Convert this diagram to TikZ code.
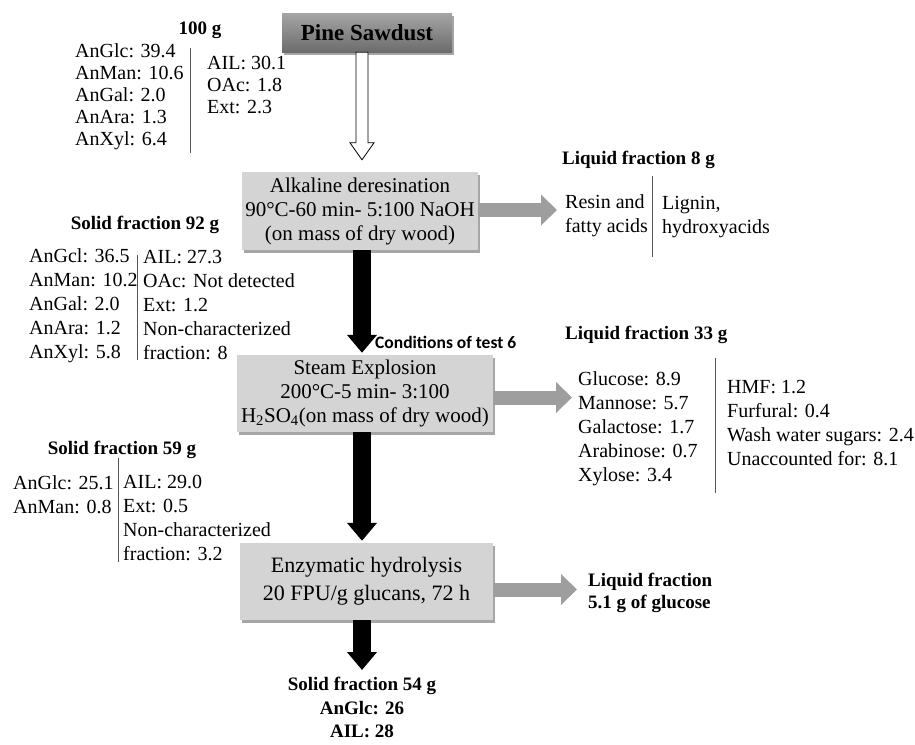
\documentclass[tikz,border=0pt]{standalone}
\usepackage{fontspec}
\setmainfont{Liberation Serif}
\newfontfamily\condfont{Carlito}
\usepackage{xcolor}
\definecolor{boxgray}{RGB}{212,212,212}
\definecolor{pinetop}{RGB}{165,165,165}
\definecolor{pinebottom}{RGB}{108,108,108}
\definecolor{flowgray}{RGB}{158,158,158}
\definecolor{sepgray}{RGB}{85,85,85}
\usepackage{tikz}
\usetikzlibrary{calc,arrows.meta,positioning,shadows}

\begin{document}
\begin{tikzpicture}
[	x=1pt, y=-1pt,
	stepbox/.style = {rectangle, fill=boxgray, align=center, inner sep=0,
		font=\fontsize{21}{24}\selectfont,
		drop shadow={shadow xshift=2pt, shadow yshift=-3pt, fill=black, opacity=0.35}},
	datalist/.style = {anchor=north west, inner sep=0, align=left, font=\fontsize{20}{24}\selectfont},
	heading/.style = {inner sep=0, font=\fontsize{19}{22}\bfseries\selectfont},
	downflow/.style = {line width=18pt, -{Triangle[length=18pt,width=29pt]}, shorten >=2pt},
	sideflow/.style = {flowgray, line width=14pt, -{Triangle[length=16pt,width=30pt]}},
	sepline/.style = {sepgray, line width=0.8pt}
]
\useasboundingbox (0,0) rectangle (915,744);
\coordinate (mid) at (362,0);

% process column
\node[stepbox, minimum width=170pt, minimum height=39pt, top color=pinetop, bottom color=pinebottom,
	font=\fontsize{23}{26}\bfseries\selectfont] (pine) at (367,32.5) {Pine Sawdust};
\node[stepbox, minimum width=236pt, minimum height=78pt] (alk) at (360,211)
	{Alkaline deresination\\90°C-60 min- 5:100 NaOH\\(on mass of dry wood)};
\node[stepbox, minimum width=256pt, minimum height=77pt] (steam) at (365,393.5)
	{Steam Explosion\\200°C-5 min- 3:100\\H\textsubscript{2}SO\textsubscript{4}(on mass of dry wood)};
\node[stepbox, minimum width=253pt, minimum height=77pt, font=\fontsize{22}{28}\selectfont] (enz) at (366.5,581.5)
	{Enzymatic hydrolysis\\20 FPU/g glucans, 72 h};

% raw material
\node[heading] (head100) at (200,30) {100 g};
\node[datalist, font=\fontsize{20}{22}\selectfont] (raw1) at (75,43)
	{AnGlc: 39.4\\AnMan: 10.6\\AnGal: 2.0\\AnAra: 1.3\\AnXyl: 6.4};
\node[datalist, font=\fontsize{20}{22}\selectfont] (raw2) at (207,56) {AIL: 30.1\\OAc: 1.8\\Ext: 2.3};
\draw[sepline] (190,48) -- (190,153);

% deresination
\node[heading, anchor=west] (liq8) at (562,160) {Liquid fraction 8 g};
\node[datalist] (resin) at (565,194) {Resin and\\fatty acids};
\node[datalist] (lignin) at (662,196) {Lignin,\\hydroxyacids};
\draw[sepline] (652,176) -- (652,257);
\node[heading] (sol92) at (145,225) {Solid fraction 92 g};
\node[datalist] (solid1) at (29,248) {AnGcl: 36.5\\AnMan: 10.2\\AnGal: 2.0\\AnAra: 1.2\\AnXyl: 5.8};
\node[datalist] (solid2) at (143,250) {AIL: 27.3\\OAc: Not detected\\Ext: 1.2\\Non-characterized\\fraction: 8};
\draw[sepline] (137,255) -- (137,360);
\node[anchor=west, inner sep=0, font=\condfont\fontsize{17.5}{20}\bfseries\selectfont] (cond) at (375,342) {Conditions of test 6};

% steam explosion
\node[heading, anchor=west] (liq33) at (565,335) {Liquid fraction 33 g};
\node[datalist] (sugars) at (578,371) {Glucose: 8.9\\Mannose: 5.7\\Galactose: 1.7\\Arabinose: 0.7\\Xylose: 3.4};
\node[datalist] (others) at (727,380) {HMF: 1.2\\Furfural: 0.4\\Wash water sugars: 2.4\\Unaccounted for: 8.1};
\draw[sepline] (715,358) -- (715,493);
\node[heading] (sol59) at (122,450) {Solid fraction 59 g};
\node[datalist] (pre1) at (13,475) {AnGlc: 25.1\\AnMan: 0.8};
\node[datalist] (pre2) at (123,475) {AIL: 29.0\\Ext: 0.5\\Non-characterized\\fraction: 3.2};
\draw[sepline] (118,458) -- (118,562);

% hydrolysis
\node[heading, anchor=north west, align=left] (liqglc) at (588,573) {Liquid fraction\\5.1 g of glucose};
\node[heading, anchor=north, align=center, font=\fontsize{19}{23.5}\bfseries\selectfont] (sol54) at (362,677)
	{Solid fraction 54 g\\AnGlc: 26\\AIL: 28};

% hollow arrow
\coordinate (hollowtop) at (pine.south -| mid);
\coordinate (hollowtip) at ($(alk.north -| mid)+(0,-12)$);
\draw[fill=white, line width=0.8pt] ($(hollowtop)+(-6,0)$) -- ($(hollowtip)+(-6,-17)$) -- ($(hollowtip)+(-12,-17)$)
	-- (hollowtip) -- ($(hollowtip)+(12,-17)$) -- ($(hollowtip)+(6,-17)$) -- ($(hollowtop)+(6,0)$) -- cycle;

\draw[downflow] (alk.south -| mid) -- (steam.north -| mid);
\draw[downflow] (steam.south -| mid) -- (enz.north -| mid);
\draw[downflow, shorten >=7pt] (enz.south -| mid) -- (sol54.north -| mid);

\draw[sideflow, shorten >=8pt] ([yshift=1pt]alk.east) -- ([yshift=1pt]alk.east -| resin.west);
\draw[sideflow, shorten >=6pt] ([yshift=-4pt]steam.east) -- ([yshift=-4pt]steam.east -| sugars.west);
\draw[sideflow, shorten >=11pt] ([yshift=-8pt]enz.east) -- ([yshift=-8pt]enz.east -| liqglc.west);

\end{tikzpicture}
\end{document}
